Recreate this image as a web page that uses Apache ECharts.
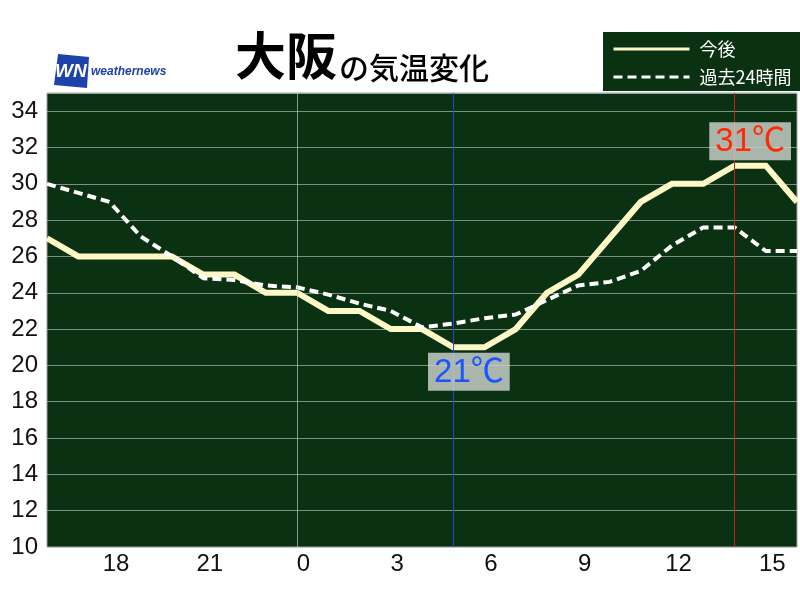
<!DOCTYPE html>
<html>
<head>
<meta charset="utf-8">
<script src="https://cdn.jsdelivr.net/npm/echarts@6/dist/echarts.min.js"></script>
<style>
html,body{margin:0;padding:0;background:#fff;}
#chart{width:800px;height:600px;}
</style>
</head>
<body>
<div id="chart"></div>
<script>
// hour of day for each point (16:00 previous day to 16:00)
const hours = [16,17,18,19,20,21,22,23,0,1,2,3,4,5,6,7,8,9,10,11,12,13,14,15,16];
// forecast temperature (今後)
const forecast = [27,26,26,26,26,25,25,24,24,23,23,22,22,21,21,22,24,25,27,29,30,30,31,31,29];
// past 24 hours temperature (過去24時間)
const past = [30,29.5,29,27.1,26,24.8,24.7,24.4,24.3,23.9,23.4,23,22.1,22.3,22.6,22.8,23.6,24.4,24.6,25.2,26.6,27.6,27.6,26.3,26.3];
const seriesNames = ['今後','過去24時間'];
const titleMain = '大阪';
const titleSub = 'の気温変化';

const FONT = '"Liberation Sans", Arial, "Noto Sans CJK JP", sans-serif';
const CJK = '"Noto Sans CJK JP", "Liberation Sans", sans-serif';

function runOf(arr, target){
  const s = arr.indexOf(target);
  let e = s;
  while (e + 1 < arr.length && arr[e+1] === target) e++;
  return [s, e];
}
const maxV = Math.max(...forecast), minV = Math.min(...forecast);
const [maxS, maxE] = runOf(forecast, maxV);
const [minS, minE] = runOf(forecast, minV);
const midnightIdx = hours.indexOf(0);

const fData = forecast.map((v,i)=>[i,v]);
const pData = past.map((v,i)=>[i,v]);

const chart = echarts.init(document.getElementById('chart'), null, {renderer:'canvas'});
chart.setOption({
  animation:false,
  backgroundColor:'#ffffff',
  grid:{left:47, right:3, top:93, bottom:53, show:true, backgroundColor:'#0b3113', borderColor:'#9aa39a', borderWidth:1},
  legend:{
    left:603, top:32, orient:'vertical',
    backgroundColor:'#0b3113', borderWidth:0,
    padding:[8,10,5,9], itemWidth:76, itemHeight:14, itemGap:10,
    itemStyle:{color:'rgba(0,0,0,0)', borderWidth:0, opacity:0},
    lineStyle:{width:3},
    textStyle:{color:'#ffffff', fontSize:18, fontFamily:CJK, padding:[0,0,0,5]},
    data:seriesNames
  },
  xAxis:{
    type:'value', min:0, max:hours.length-1, interval:1,
    axisLine:{show:false}, axisTick:{show:false}, splitLine:{show:false},
    axisLabel:{
      color:'#111', fontSize:24, fontFamily:FONT, margin:5, padding:[0,0,0,13],
      showMinLabel:true, showMaxLabel:true,
      formatter:function(v){ const h = hours[v]; return (h!==undefined && h%3===0 && v>0 && v<hours.length-1) ? String(h) : ''; }
    }
  },
  yAxis:{
    type:'value', min:10, max:35, interval:2,
    axisLine:{show:false}, axisTick:{show:false},
    splitLine:{show:true, lineStyle:{color:'rgba(190,195,190,0.65)', width:1}},
    axisLabel:{color:'#111', fontSize:24, fontFamily:FONT, margin:9, showMaxLabel:false, padding:[3,0,0,0]}
  },
  graphic:[
    {type:'polygon', shape:{points:[[58,54],[89,57],[87,88],[54,85]]}, style:{fill:'#1d43a8'}},
    {type:'text', left:55, top:62, style:{text:'WN', fill:'#ffffff', font:'italic bold 19px "Liberation Sans", Arial, sans-serif'}},
    {type:'text', left:91, top:66, style:{text:'weathernews', fill:'#1d43a8', font:'italic bold 12px "Liberation Sans", Arial, sans-serif'}},
    {type:'text', left:235, top:30, style:{text:titleMain, fill:'#000', font:'bold 51px "Noto Sans CJK JP", sans-serif'}},
    {type:'text', left:339, top:53, style:{text:titleSub, fill:'#000', font:'500 30px "Noto Sans CJK JP", sans-serif'}}
  ],
  series:[
    {
      name:seriesNames[0], type:'line', data:fData, symbol:'none', z:3,
      lineStyle:{color:'#fdf8c6', width:6, join:'miter'},
      itemStyle:{color:'#fdf8c6'},
      markLine:{
        silent:true, symbol:'none', label:{show:false},
        data:[
          {xAxis:midnightIdx, lineStyle:{color:'rgba(190,195,190,0.7)', width:1, type:'solid'}},
          {xAxis:minS, lineStyle:{color:'#2545d8', width:1, type:'solid'}},
          {xAxis:maxS, lineStyle:{color:'#c8231a', width:1, type:'solid'}}
        ]
      },
      markPoint:{
        silent:true, symbol:'circle', symbolSize:1, itemStyle:{color:'rgba(0,0,0,0)'},
        data:[
          {coord:[(maxS+maxE)/2, maxV], value:maxV,
           label:{show:true, position:'top', distance:5, formatter:maxV+'℃', color:'#ff2a05', fontSize:33, fontFamily:FONT,
                  backgroundColor:'rgba(205,212,205,0.82)', padding:[3,6,1,6], lineHeight:34}},
          {coord:[(minS+minE)/2, minV], value:minV,
           label:{show:true, position:'bottom', distance:5, formatter:minV+'℃', color:'#1a55ff', fontSize:33, fontFamily:FONT,
                  backgroundColor:'rgba(205,212,205,0.82)', padding:[3,6,1,6], lineHeight:34}}
        ]
      }
    },
    {
      name:seriesNames[1], type:'line', data:pData, symbol:'none', z:4,
      lineStyle:{color:'#ffffff', width:4, type:[9,5]},
      itemStyle:{color:'#ffffff'}
    }
  ]
});
</script>
</body>
</html>
